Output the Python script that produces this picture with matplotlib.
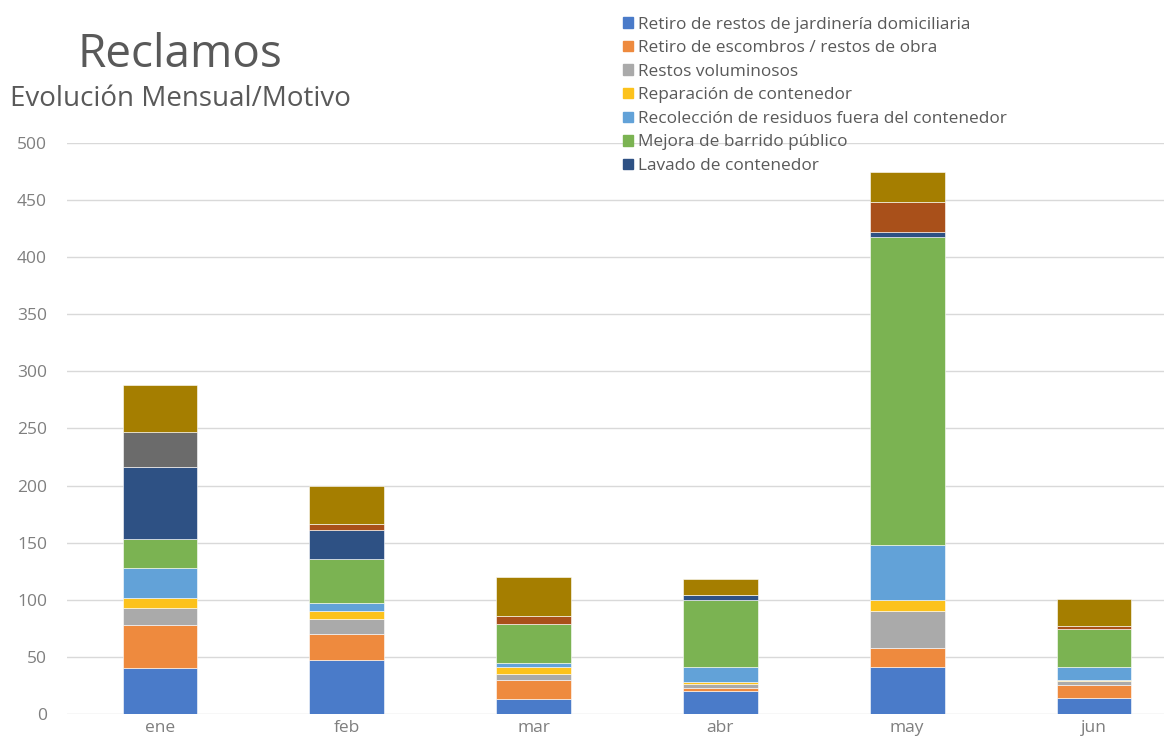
import matplotlib.pyplot as plt
import matplotlib.patches as mpatches
import numpy as np

plt.rcParams['font.family'] = ['Open Sans', 'DejaVu Sans']

months = ['ene', 'feb', 'mar', 'abr', 'may', 'jun']

# valores (reclamos por motivo y mes)
jardineria = [40, 47, 13, 20, 41, 14]
escombros = [38, 23, 17, 3, 17, 11]
voluminosos = [15, 13, 5, 3, 32, 4]
reparacion = [9, 7, 6, 2, 10, 1]
recoleccion = [26, 7, 4, 13, 48, 11]
barrido = [25, 39, 34, 59, 270, 33]
lavado = [63, 25, 0, 4, 4, 0]
serie8 = [0, 5, 7, 0, 26, 3]
serie9 = [31, 0, 0, 0, 0, 0]
serie10 = [41, 34, 34, 14, 27, 24]

labels = ['Retiro de restos de jardinería domiciliaria',
          'Retiro de escombros / restos de obra',
          'Restos voluminosos',
          'Reparación de contenedor',
          'Recolección de residuos fuera del contenedor',
          'Mejora de barrido público',
          'Lavado de contenedor']

series = [jardineria, escombros, voluminosos, reparacion, recoleccion,
          barrido, lavado, serie8, serie9, serie10]
colors = ['#4a7bc9', '#ee8a3e', '#aaaaaa', '#fcc21c', '#62a2d8',
          '#7bb352', '#2e5184', '#a9501a', '#6b6b6b', '#a57e00']

fig = plt.figure(figsize=(11.64, 7.48), dpi=100)
ax = fig.add_axes([66.5 / 1164, 1 - 714 / 748, 1121 / 1164, 571 / 748])

x = np.arange(len(months))
bottom = np.zeros(len(months))
for vals, col in zip(series, colors):
    ax.bar(x, vals, width=0.4, bottom=bottom, color=col,
           edgecolor='white', linewidth=0.4)
    bottom += np.array(vals)

ax.set_xlim(-0.5, 5.5)
ax.set_ylim(0, 500)
ax.set_yticks(range(0, 501, 50))
ax.set_xticks(x)
ax.set_xticklabels(months)
ax.tick_params(axis='both', length=0, colors='#7f7f7f', labelsize=12.5)
ax.tick_params(axis='y', pad=14)
ax.tick_params(axis='x', pad=4)
ax.grid(axis='y', color='#d9d9d9', linewidth=1)
ax.set_axisbelow(True)
for s in ax.spines.values():
    s.set_visible(False)

fig.text(180 / 1164, 1 - 67 / 748, 'Reclamos', fontsize=33, color='#595959',
         ha='center', va='baseline')
fig.text(10 / 1164, 1 - 106 / 748, 'Evolución Mensual/Motivo', fontsize=20,
         color='#595959', ha='left', va='baseline')

handles = [mpatches.Patch(color=colors[i], label=labels[i]) for i in range(7)]
leg = fig.legend(handles=handles, loc='upper left',
                 bbox_to_anchor=(614 / 1164, 1 - 8 / 748), frameon=False,
                 fontsize=12.4, handlelength=0.6, handleheight=0.55,
                 handletextpad=0.3, labelspacing=0.44, borderpad=0)
for t in leg.get_texts():
    t.set_color('#595959')

fig.savefig('out.png', dpi=100)
